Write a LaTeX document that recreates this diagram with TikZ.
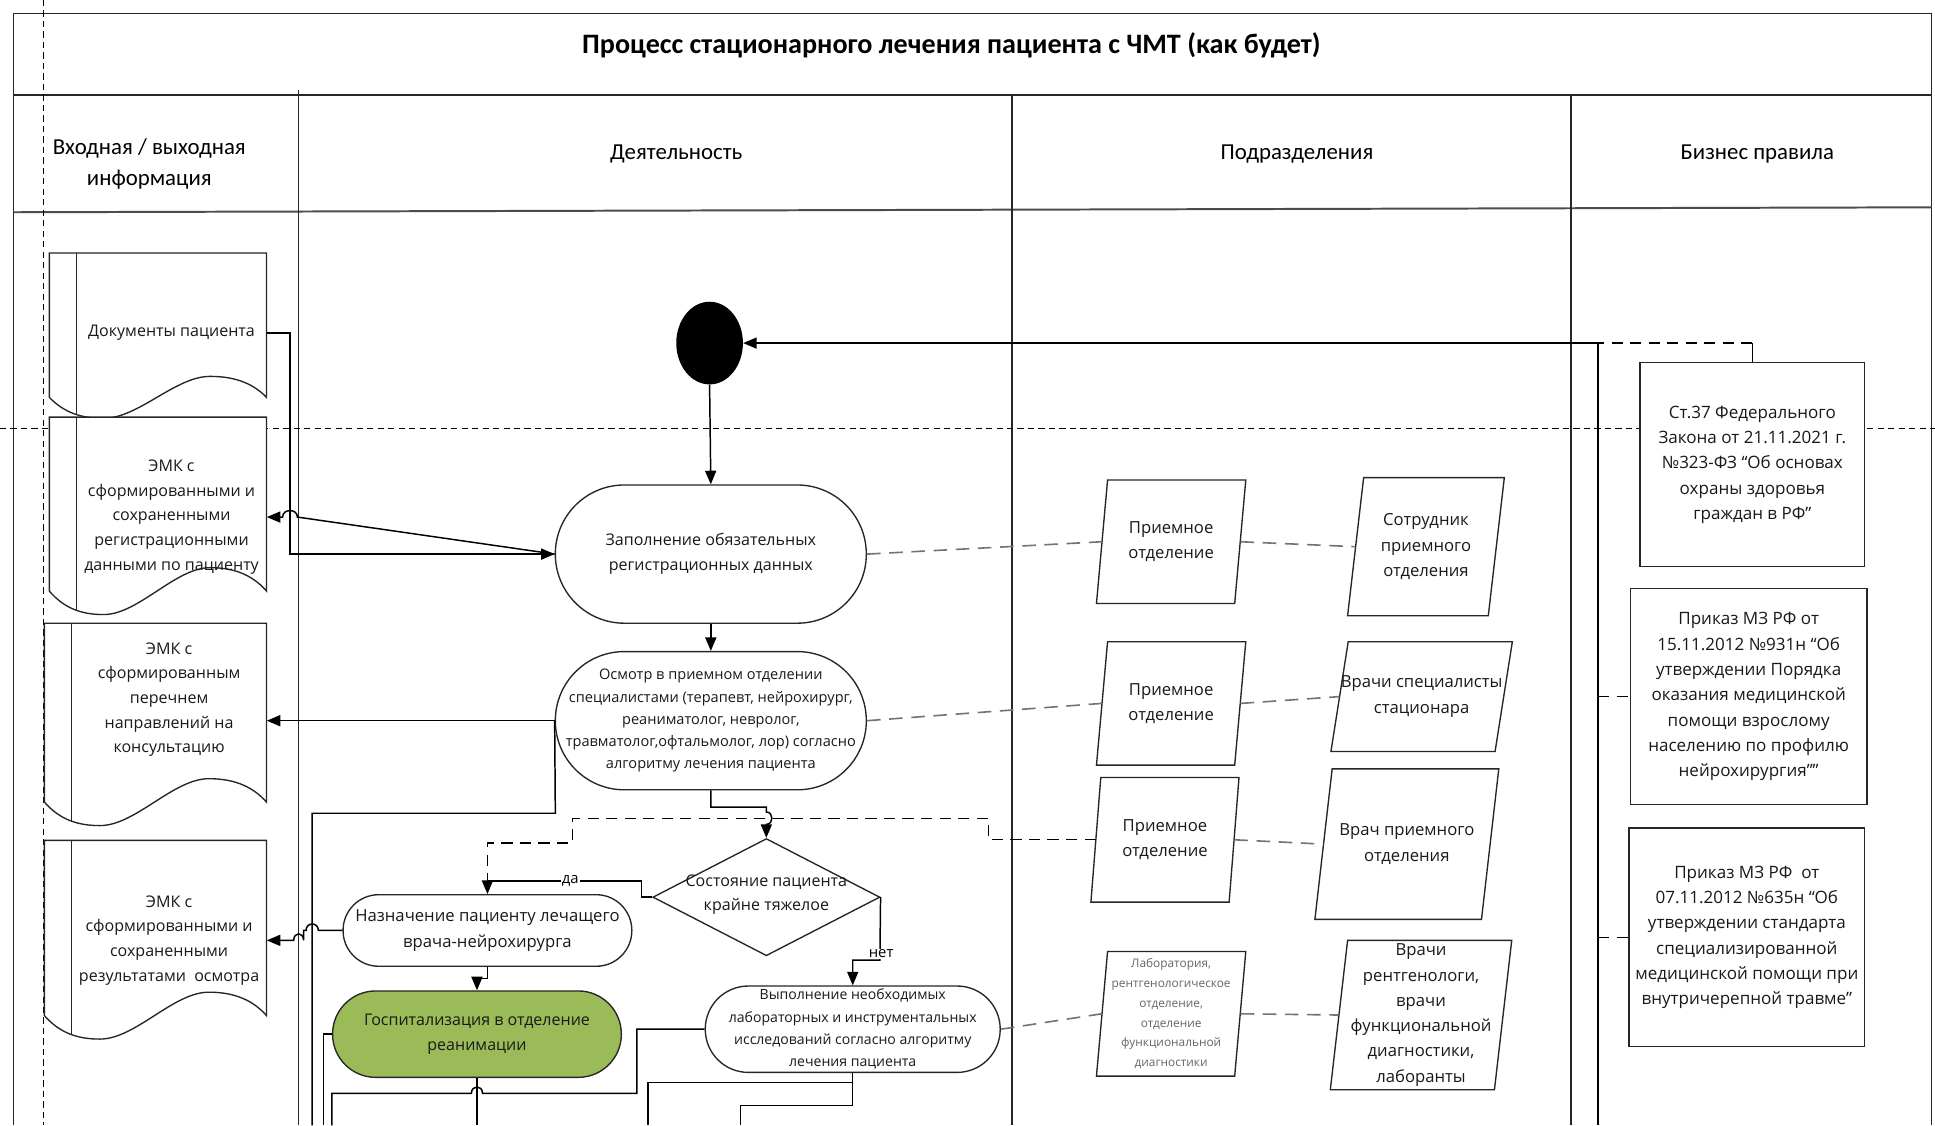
\documentclass[tikz,border=0pt]{standalone}
\usepackage{fontspec}
\setmainfont{Open Sans}
\newfontfamily\hdrfont{Carlito}
\usetikzlibrary{arrows.meta,shapes.geometric}

\definecolor{grn}{RGB}{155,187,89}

\tikzset{
  frame/.style={line width=1.2pt, draw=black!85},
  shapeline/.style={line width=1.1pt, draw=black!85},
  conn/.style={line width=1.2pt, draw=black},
  arr/.style={conn, -{Triangle[length=11pt,width=9pt]}},
  pagebreak/.style={line width=0.8pt, draw=black, dash pattern=on 5pt off 3.5pt},
  linkdash/.style={line width=1.3pt, draw=black!55, dash pattern=on 11pt off 7pt},
  ruledash/.style={line width=1.1pt, draw=black, dash pattern=on 9pt off 6pt},
  body/.style={font=\fontsize{13}{20}\selectfont, align=center, inner sep=0pt, text=black!90},
  hdr/.style={font=\hdrfont\fontsize{18.5}{25}\selectfont, align=center, inner sep=0pt},
  stadium/.style={body, shapeline, fill=white, rectangle},
  rulebox/.style={shapeline, fill=white, rectangle, align=center, inner sep=0pt,
    font=\fontsize{13.8}{20.5}\selectfont, text=black!90},
  lbl/.style={fill=white, inner sep=1pt, font=\fontsize{12}{14}\selectfont},
}

% outline of a document symbol with a wavy bottom edge
\newcommand\docoutline[5]{% left x, right x, top y, wave base y, amplitude
  (#1,#3) -- (#2,#3) -- (#2,#4)
  .. controls ({#2-0.07*\docW},{#4-0.75*#5}) and ({\docC+0.1*\docW},{#4-#5}) .. (\docC,{#4-#5})
  .. controls ({\docC-0.16*\docW},{#4-#5}) and ({\docT+0.16*\docW},{#4+#5}) .. (\docT,{#4+#5})
  .. controls ({\docT-0.1*\docW},{#4+#5}) and ({#1+0.07*\docW},{#4+0.75*#5}) .. (#1,#4) -- cycle}

% document symbol: left x, right x, top y, wave base y, wave amplitude, stripe x
\newcommand\docshape[6]{%
  \pgfmathsetmacro\docW{#2-#1}%
  \pgfmathsetmacro\docC{#1+0.74*\docW}%
  \pgfmathsetmacro\docT{#1+0.25*\docW}%
  \path[fill=white] \docoutline{#1}{#2}{#3}{#4}{#5};
  \begin{scope}
    \clip \docoutline{#1}{#2}{#3}{#4}{#5};
    \draw[shapeline] (#6,#3) -- (#6,{#4+3*#5});
  \end{scope}
  \draw[shapeline] \docoutline{#1}{#2}{#3}{#4}{#5};
}

% parallelogram: name, centre x, centre y, edge width, height, slant, options, text
\newcommand\pgram[8]{%
  \draw[shapeline, fill=white] ({#2-#4/2+#6/2},{#3-#5/2}) -- ({#2+#4/2+#6/2},{#3-#5/2})
    -- ({#2+#4/2-#6/2},{#3+#5/2}) -- ({#2-#4/2-#6/2},{#3+#5/2}) -- cycle;
  \node[body, font=\fontsize{13.5}{20.5}\selectfont, minimum width=#4, minimum height=#5, #7] (#1) at (#2,#3) {#8};
}

\begin{document}
\begin{tikzpicture}[x=1pt, y=-1pt]
\fill[white] (0,0) rectangle (1568,912);
\useasboundingbox (0,0) rectangle (1568,912);

% swimlane table
\draw[frame] (11,912) -- (11,11) -- (1565,11) -- (1565,912);
\draw[frame] (11,77) -- (1565,77);
\draw[frame, draw=black!70, line width=1.6pt] (11,172) -- (1565,168);
\draw[frame] (242,73) -- (242,912);
\draw[frame] (820,77) -- (820,912);
\draw[frame] (1273,77) -- (1273,912);

% page break lines
\draw[pagebreak] (35,0) -- (35,912);
\draw[pagebreak] (0,347) -- (1568,347);

% headings
\node[hdr, font=\hdrfont\bfseries\fontsize{22.8}{26}\selectfont] (title) at (771,37) {Процесс стационарного лечения пациента с ЧМТ (как будет)};
\node[hdr] (hin) at (121,133) {Входная / выходная\\информация};
\node[hdr] (hact) at (548,125) {Деятельность};
\node[hdr] (hdiv) at (1051,125) {Подразделения};
\node[hdr] (hrule) at (1424,125) {Бизнес правила};

% input / output documents
\docshape{40}{216}{205}{322}{17}{62}
\node[body, minimum width=154] (d1) at (139,270) {Документы пациента};
\docshape{40}{216}{338}{479}{19}{62}
\node[body, minimum width=154] (d2) at (139,419) {ЭМК с\\сформированными и\\сохраненными\\регистрационными\\данными по пациенту};
\docshape{36}{216}{505}{650}{19}{58}
\node[body, minimum width=158] (d3) at (137,567) {ЭМК с\\сформированным\\перечнем\\направлений на\\консультацию};
\docshape{36}{216}{681}{823}{19}{58}
\node[body, minimum width=158] (d4) at (137,762) {ЭМК с\\сформированными и\\сохраненными\\результатами~~осмотра};

% activities
\node[ellipse, fill=black, minimum width=54, minimum height=67, inner sep=0pt] (st) at (575,278) {};
\node[stadium, rounded corners=55.9pt, minimum width=252, minimum height=112] (n1) at (576,449)
  {Заполнение обязательных\\регистрационных данных};
\node[stadium, rounded corners=55.9pt, minimum width=252, minimum height=112, font=\fontsize{11.8}{18}\selectfont] (n2) at (576,584)
  {Осмотр в приемном отделении\\специалистами (терапевт, нейрохирург,\\реаниматолог, невролог,\\травматолог,офтальмолог, лор) согласно\\алгоритму лечения пациента};
\node[diamond, shapeline, fill=white, minimum width=184, minimum height=95, inner sep=0pt] (dm) at (621,727) {};
\node[body, font=\fontsize{13}{19}\selectfont] (dmt) at (621,725) {Состояние пациента\\крайне тяжелое};
\node[stadium, rounded corners=28.9pt, minimum width=234, minimum height=58, font=\fontsize{13.5}{21}\selectfont] (n3) at (395,754)
  {Назначение пациенту лечащего\\врача-нейрохирурга};
\node[stadium, rounded corners=34.9pt, minimum width=234, minimum height=70, fill=grn] (n4) at (386.5,838)
  {Госпитализация в отделение\\реанимации};
\node[stadium, rounded corners=34.9pt, minimum width=239, minimum height=70, font=\fontsize{11.4}{18}\selectfont] (n5) at (691,834)
  {Выполнение необходимых\\лабораторных и инструментальных\\исследований согласно алгоритму\\лечения пациента};

% departments and staff
\pgram{pd1}{949}{439}{112}{100}{9}{}{Приемное\\отделение}
\pgram{pd2}{1155.5}{443}{114}{112}{13}{}{Сотрудник\\приемного\\отделения}
\pgram{pd3}{949}{570}{112}{100}{9}{}{Приемное\\отделение}
\pgram{pd4}{1152}{564.5}{133}{89}{14}{}{Врачи специалисты\\стационара}
\pgram{pd5}{944}{680.5}{112}{101}{8}{}{Приемное\\отделение}
\pgram{pd6}{1140}{684}{135}{122}{14}{}{Врач приемного\\отделения}
\pgram{pd7}{949}{821.5}{112}{101}{9}{font=\fontsize{9.6}{16}\selectfont, text=black!60}{Лаборатория,\\рентгенологическое\\отделение,\\отделение\\функциональной\\диагностики}
\pgram{pd8}{1151.5}{822.5}{133}{121}{14}{}{Врачи\\рентгенологи,\\врачи\\функциональной\\диагностики,\\лаборанты}

% business rules
\node[rulebox, minimum width=182, minimum height=165] (r1) at (1420,376.5)
  {Ст.37 Федерального\\Закона от 21.11.2021 г.\\№323-ФЗ “Об основах\\охраны здоровья\\граждан в РФ”};
\node[rulebox, minimum width=192, minimum height=175] (r2) at (1417,564.5)
  {Приказ МЗ РФ от\\15.11.2012 №931н “Об\\утверждении Порядка\\оказания медицинской\\помощи взрослому\\населению по профилю\\нейрохирургия””};
\node[rulebox, minimum width=191, minimum height=177] (r3) at (1415.5,759.5)
  {Приказ МЗ РФ~~от\\07.11.2012 №635н “Об\\утверждении стандарта\\специализированной\\медицинской помощи при\\внутричерепной травме”};

% main flow
\draw[arr] (st.south) -- (n1.north);
\draw[arr] (n1.south) -- (n2.north);
\draw[arr] (n2.south) -- (576,654) -- (621,654) -- (621,658)
  .. controls (627,658) and (627,668) .. (621,668) -- (dm.north);
\draw[arr] (dm.west) -- (520,727) -- (520,714) -- (395,714) -- (n3.north);
\node[lbl] (yes) at (462,714) {да};
\draw[arr] (dm.east) -- (713,778) -- (691,778) -- (n5.north);
\node[lbl] (no) at (714,773) {нет};
\draw[ruledash] (pd5.west) -- (801,680.5) -- (801,663) -- (464,663) -- (464,683) -- (395,683) -- (395,714);
\draw[arr] (n3.south) -- (395,793) -- (386.5,793) -- (n4.north);

% links to departments
\draw[linkdash] (n1.east) -- (pd1.west);
\draw[linkdash] (pd1.east) -- (pd2.west);
\draw[linkdash] (n2.east) -- (pd3.west);
\draw[linkdash] (pd3.east) -- (pd4.west);
\draw[linkdash] (pd5.east) -- (pd6.west);
\draw[linkdash] (n5.east) -- (pd7.west);
\draw[linkdash] (pd7.east) -- (pd8.west);

% business rules bus
\draw[conn] (r1.north) -- (1420,278);
\draw[ruledash] (1420,278) -- (1295,278);
\draw[arr] (1295,278) -- (st.east);
\draw[conn] (1295,278) -- (1295,912);
\draw[ruledash] (1295,564.5) -- (r2.west);
\draw[ruledash] (1295,759.5) -- (r3.west);

% documents in and out
\draw[arr] (d1.east) -- (235,270) -- (235,449) -- (n1.west);
\draw[arr] (n1.west) -- (241,419) .. controls (241,412) and (229,412) .. (229,419) -- (d2.east);
\draw[arr] (n2.west) -- (d3.east |- n2.west);
\draw[conn] (n2.west) -- (450,659) -- (253,659) -- (253,912);
\draw[arr] (n3.west) -- (258,754) .. controls (258,747) and (248,747) .. (248,754) -- (246,754) -- (246,762)
  .. controls (246,755) and (238,755) .. (238,762) -- (d4.east);

% continuing flow lines
\draw[conn] (n4.west) -- (262,838) -- (262,912);
\draw[conn] (n4.south) -- (386.5,912);
\draw[conn] (n5.west) -- (516,834) -- (516,886) -- (391,886)
  .. controls (391,879) and (382,879) .. (382,886) -- (269,886) -- (269,912);
\draw[conn] (n5.south) -- (691,877) -- (525,877) -- (525,912);
\draw[conn] (691,877) -- (691,896) -- (600,896) -- (600,912);
\end{tikzpicture}
\end{document}
